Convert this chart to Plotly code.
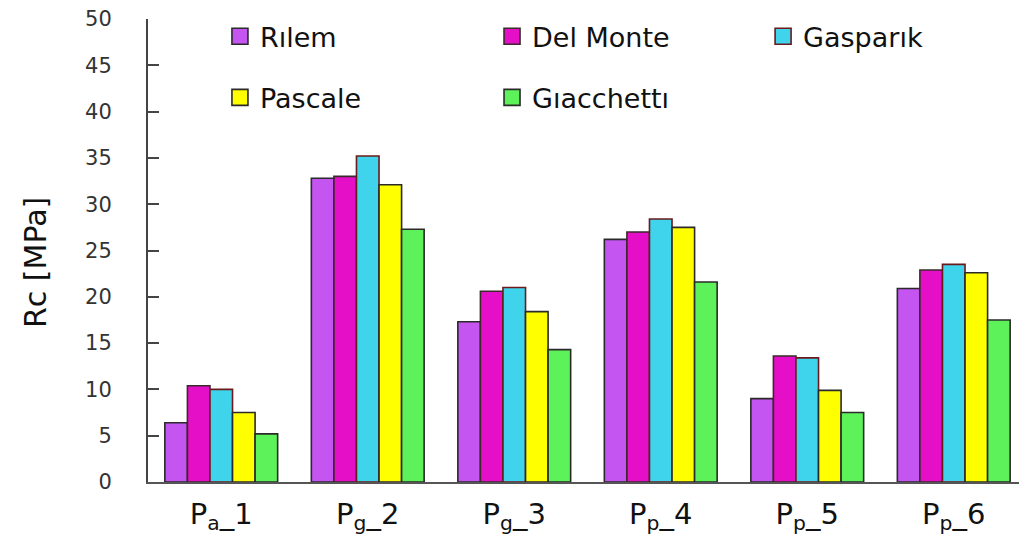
import plotly.graph_objects as go

categories = ["P<sub>a</sub>_1", "P<sub>g</sub>_2", "P<sub>g</sub>_3",
              "P<sub>p</sub>_4", "P<sub>p</sub>_5", "P<sub>p</sub>_6"]
rilem = [6.4, 32.8, 17.3, 26.2, 9.0, 20.9]
del_monte = [10.4, 33.0, 20.6, 27.0, 13.6, 22.9]
gasparik = [10.0, 35.2, 21.0, 28.4, 13.4, 23.5]
pascale = [7.5, 32.1, 18.4, 27.5, 9.9, 22.6]
giacchetti = [5.2, 27.3, 14.3, 21.6, 7.5, 17.5]
y_title = "Rc [MPa]"

series = [
    ("Rılem", rilem, "#C455F0", "#2a2a2a", "legend"),
    ("Del Monte", del_monte, "#E60FC8", "#3a2a2a", "legend2"),
    ("Gasparık", gasparik, "#40D4EC", "#6a1a1a", "legend3"),
    ("Pascale", pascale, "#FFFF00", "#2a2a2a", "legend"),
    ("Gıacchettı", giacchetti, "#5EF25A", "#2a2a2a", "legend2"),
]

FONT = "DejaVu Sans"
fig = go.Figure()
for name, vals, col, lc, lg in series:
    fig.add_trace(go.Bar(
        x=categories, y=vals, name=name, marker_color=col,
        marker_line=dict(color=lc, width=1.6), showlegend=False,
        legendgroup=name,
    ))
for name, vals, col, lc, lg in series:
    fig.add_trace(go.Scatter(
        x=[None], y=[None], mode="markers", name=name, legendgroup=name,
        marker=dict(symbol="square", size=16, color=col, line=dict(color=lc, width=1.6)),
        legend=lg,
    ))

legend_style = dict(orientation="v", xref="container", yref="container", y=0.992,
                    xanchor="left", yanchor="top", tracegroupgap=23,
                    font=dict(size=27, family=FONT, color="#111"),
                    bgcolor="rgba(0,0,0,0)")

fig.update_layout(
    width=1019, height=530,
    margin=dict(l=140, r=0, t=11, b=56, autoexpand=False),
    plot_bgcolor="white", paper_bgcolor="white",
    barmode="group", bargap=0.23, bargroupgap=0,
    font=dict(family=FONT, color="#222"),
    legend=dict(x=0.208, **legend_style),
    legend2=dict(x=0.475, **legend_style),
    legend3=dict(x=0.741, **legend_style),
    annotations=[dict(
        text=y_title, xref="paper", yref="paper", x=-0.1286, y=0.475,
        xanchor="center", yanchor="middle", textangle=-90, showarrow=False,
        font=dict(size=30, color="#111", family=FONT),
    )],
)
fig.update_yaxes(
    range=[0, 50], dtick=5, tick0=0, showgrid=False, zeroline=False,
    showline=True, linecolor="#444", linewidth=2,
    ticks="inside", ticklen=11, tickwidth=2, tickcolor="#444",
    ticklabelstandoff=30, ticklabeloverflow="allow",
    tickfont=dict(size=21, color="#333", family=FONT),
)
fig.update_xaxes(
    range=[-0.5, 5.5], showgrid=False, zeroline=False,
    showline=True, linecolor="#555", linewidth=2, ticks="",
    ticklabelstandoff=5, ticklabeloverflow="allow",
    tickfont=dict(size=29, color="#111", family=FONT),
)
fig.write_html("out.html")
